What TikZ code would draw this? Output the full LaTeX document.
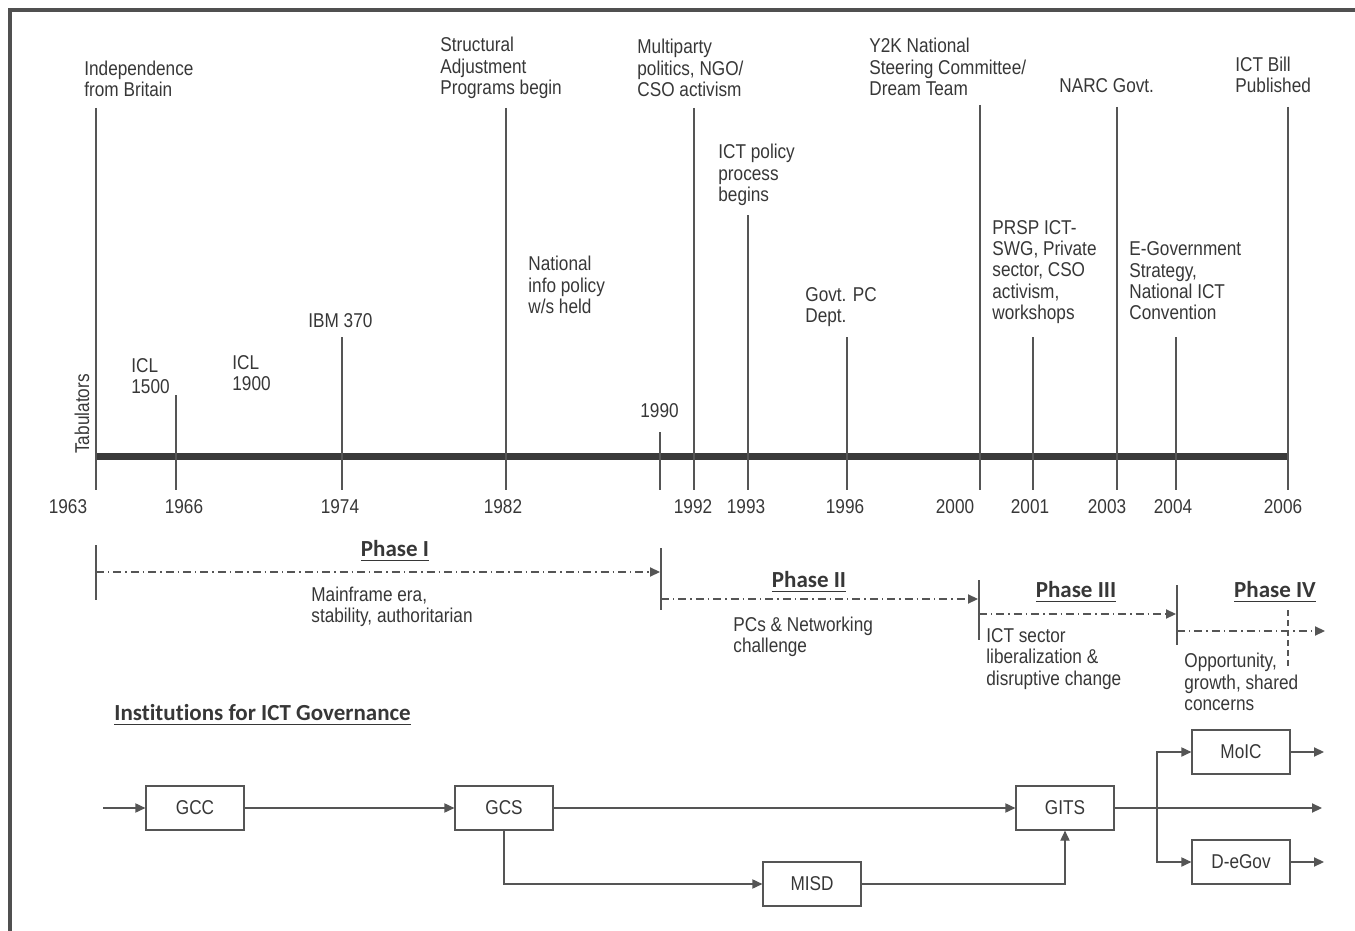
\documentclass[tikz,border=0pt]{standalone}
\usepackage{fontspec}
\setmainfont{Liberation Sans}[FakeStretch=0.86]
\newfontfamily\headfont{Carlito}[Ligatures=NoCommon]
\usepackage{tikz}
\usetikzlibrary{arrows.meta,positioning}
\definecolor{framegray}{RGB}{80,80,80}
\definecolor{bargray}  {RGB}{58,58,58}
\definecolor{linegray} {RGB}{85,85,85}
\definecolor{txtgray}  {RGB}{55,55,55}
\tikzset{
  evt/.style     ={anchor=west, align=left, inner sep=0pt, text=txtgray,
                   font=\fontsize{10}{10.7}\selectfont},
  yearlbl/.style ={inner sep=0pt, text=txtgray,
                   font=\fontsize{10}{11}\selectfont},
  phasehd/.style ={inner sep=0pt, text=txtgray,
                   font=\headfont\bfseries\fontsize{11.5}{13}\selectfont},
  instbox/.style ={draw=linegray, line width=0.6pt, minimum width=49pt,
                   minimum height=22pt, inner sep=0pt, text=txtgray,
                   font=\fontsize{10}{11}\selectfont},
  yeartick/.style={draw=linegray, line width=0.65pt},
  bracket/.style ={draw=linegray, line width=0.6pt},
  arr/.style     ={-{Triangle[length=5pt,width=4.6pt]}, draw=linegray,
                   line width=0.6pt},
  phasearr/.style={arr, dash pattern=on 4pt off 2pt on 0.7pt off 2pt},
}

\begin{document}
\begin{tikzpicture}[x=0.5pt,y=-0.5pt]
  \useasboundingbox (0,0) rectangle (1355,931);
  \draw[framegray, line width=2pt] (10,931) -- (10,10) -- (1355,10);

  %% timeline
  \draw[bargray, line width=3.5pt] (96,456) -- (1288,456);
  \foreach \yr/\xx/\top in {1963/96/108, 1966/176/395, 1974/342/337,
      1982/506/108, 1990/660/432, 1992/694/108, 1993/748/215,
      1996/847/337, 2000/980/105, 2001/1033/337, 2003/1117/107,
      2004/1176/337, 2006/1288/107}{
    \coordinate (t\yr) at (\xx,\top);
    \coordinate (b\yr) at (\xx,490);
    \draw[yeartick] (t\yr) -- (b\yr);
  }
  \node[yearlbl] (y1963) at (68,507)   {1963};
  \node[yearlbl] (y1966) at (184,507)  {1966};
  \node[yearlbl] (y1974) at (340,507)  {1974};
  \node[yearlbl] (y1982) at (503,507)  {1982};
  \node[yearlbl] (y1992) at (693,507)  {1992};
  \node[yearlbl] (y1993) at (746,507)  {1993};
  \node[yearlbl] (y1996) at (845,507)  {1996};
  \node[yearlbl] (y2000) at (955,507)  {2000};
  \node[yearlbl] (y2001) at (1030,507) {2001};
  \node[yearlbl] (y2003) at (1107,507) {2003};
  \node[yearlbl] (y2004) at (1173,507) {2004};
  \node[yearlbl] (y2006) at (1283,507) {2006};

  %% events
  \node[evt] (indep)   at (84,79)   {Independence\\from Britain};
  \node[evt] (sap)     at (440,68)  {Structural\\Adjustment\\Programs begin};
  \node[evt] (multi)   at (637,68)  {Multiparty\\politics, NGO/\\CSO activism};
  \node[evt] (ytwok)   at (869,67)  {Y2K National\\Steering Committee/\\Dream Team};
  \node[evt] (narc)    at (1059,86) {NARC Govt.};
  \node[evt] (bill)    at (1235,75) {ICT Bill\\Published};
  \node[evt] (ictpol)  at (718,175) {ICT policy\\process\\begins};
  \node[evt] (natinfo) at (528,285) {National\\info policy\\w/s held};
  \node[evt] (pcdept)  at (805,307) {Govt. PC\\Dept.};
  \node[evt] (prsp)    at (992,272) {PRSP ICT-\\SWG, Private\\sector, CSO\\activism,\\workshops};
  \node[evt] (egov)    at (1129,281) {E-Government\\Strategy,\\National ICT\\Convention};
  \node[evt] (ibm)     at (308,321) {IBM 370};
  \node[evt] (icla)    at (131,376) {ICL\\1500};
  \node[evt] (iclb)    at (232,373) {ICL\\1900};
  \node[evt] (ninety)  at (640,411) {1990};
  \node[evt, anchor=center, rotate=90] (tab) at (82,414) {Tabulators};

  %% phases
  \node[phasehd] (ph1) at (395,551)  {\underline{Phase I}};
  \node[phasehd] (ph2) at (809,582)  {\underline{Phase II}};
  \node[phasehd] (ph3) at (1076,592) {\underline{Phase III}};
  \node[phasehd] (ph4) at (1275,592) {\underline{Phase IV}};
  \coordinate (k1a) at (96,545);   \coordinate (k1b) at (96,600);
  \coordinate (k2a) at (661,548);  \coordinate (k2b) at (661,610);
  \coordinate (k3a) at (979,580);  \coordinate (k3b) at (979,640);
  \coordinate (k4a) at (1177,585); \coordinate (k4b) at (1177,645);
  \draw[bracket] (k1a) -- (k1b);
  \draw[bracket] (k2a) -- (k2b);
  \draw[bracket] (k3a) -- (k3b);
  \draw[bracket] (k4a) -- (k4b);
  \draw[bracket, dash pattern=on 3pt off 2pt] (1288,610) -- (1288,668);
  \coordinate (p1s) at (96,572);   \coordinate (p1e) at (660,572);
  \coordinate (p2s) at (661,599);  \coordinate (p2e) at (978,599);
  \coordinate (p3s) at (979,614);  \coordinate (p3e) at (1176,614);
  \coordinate (p4s) at (1177,631); \coordinate (p4e) at (1325,631);
  \draw[phasearr] (p1s) -- (p1e);
  \draw[phasearr] (p2s) -- (p2e);
  \draw[phasearr] (p3s) -- (p3e);
  \draw[phasearr] (p4s) -- (p4e);
  \node[evt] (ph1d) at (311,607)  {Mainframe era,\\stability, authoritarian};
  \node[evt] (ph2d) at (733,637)  {PCs \& Networking\\challenge};
  \node[evt] (ph3d) at (986,659)  {ICT sector\\liberalization \&\\disruptive change};
  \node[evt] (ph4d) at (1184,682) {Opportunity,\\growth, shared\\concerns};

  %% institutions
  \node[phasehd, anchor=west] (insthd) at (114,715) {\underline{Institutions for ICT Governance}};
  \node[instbox] (gcc)   at (195,808)  {GCC};
  \node[instbox] (gcs)   at (504,808)  {GCS};
  \node[instbox] (gits)  at (1065,808) {GITS};
  \node[instbox] (misd)  at (812,884)  {MISD};
  \node[instbox] (moic)  at (1241,752) {MoIC};
  \node[instbox] (degov) at (1241,862) {D-eGov};
  \coordinate (inlet)   at (103,808);
  \coordinate (split)   at (1157,808);
  \coordinate (gitsout) at (1322,808);
  \coordinate (moicout) at (1324,752);
  \coordinate (degovout) at (1324,862);
  \draw[arr] (inlet) -- (gcc);
  \draw[arr] (gcc) -- (gcs);
  \draw[arr] (gcs) -- (gits);
  \draw[arr] (gcs.south) |- (misd);
  \draw[arr] (misd) -| (gits.south);
  \draw[arr] (gits) -- (gitsout);
  \draw[arr] (split) |- (moic);
  \draw[arr] (split) |- (degov);
  \draw[arr] (moic) -- (moicout);
  \draw[arr] (degov) -- (degovout);
\end{tikzpicture}
\end{document}
